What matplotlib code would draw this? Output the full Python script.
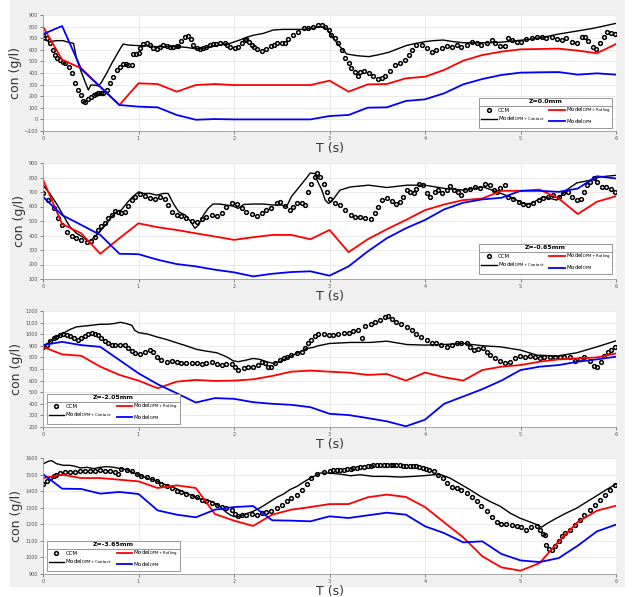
import numpy as np
import matplotlib
matplotlib.use("Agg")
import matplotlib.pyplot as plt
from matplotlib.patches import Rectangle
from matplotlib.lines import Line2D

# model time grid (s)
t_model = np.linspace(0, 6, 31)

# ---------- Z = 0.0 mm ----------
t_ccm_1 = [0.00, 0.04, 0.07, 0.10, 0.125, 0.15, 0.18, 0.21, 0.23, 0.27, 0.30, 0.335, 0.37, 0.40, 0.42, 0.44, 0.475, 0.50, 0.53, 0.56, 0.58, 0.61, 0.63, 0.67, 0.70, 0.735, 0.77, 0.81, 0.84, 0.87, 0.89, 0.93, 0.94, 0.97, 1.0, 1.02, 1.05, 1.085, 1.12, 1.155, 1.19, 1.225, 1.26, 1.295, 1.33, 1.365, 1.40, 1.417, 1.45, 1.49, 1.52, 1.55, 1.575, 1.61, 1.645, 1.68, 1.71, 1.745, 1.78, 1.815, 1.85, 1.905, 1.93, 1.96, 2.01, 2.045, 2.08, 2.115, 2.13, 2.16, 2.185, 2.21, 2.24, 2.29, 2.34, 2.39, 2.42, 2.45, 2.50, 2.53, 2.57, 2.62, 2.67, 2.73, 2.78, 2.83, 2.88, 2.92, 2.95, 2.99, 3.02, 3.06, 3.09, 3.13, 3.16, 3.20, 3.23, 3.27, 3.30, 3.32, 3.36, 3.41, 3.46, 3.51, 3.55, 3.58, 3.63, 3.69, 3.74, 3.79, 3.83, 3.86, 3.91, 3.97, 4.02, 4.07, 4.12, 4.18, 4.23, 4.28, 4.33, 4.38, 4.44, 4.49, 4.54, 4.59, 4.65, 4.70, 4.73, 4.79, 4.84, 4.87, 4.91, 4.96, 5.01, 5.06, 5.12, 5.17, 5.22, 5.27, 5.33, 5.38, 5.43, 5.48, 5.54, 5.59, 5.64, 5.68, 5.71, 5.76, 5.79, 5.83, 5.87, 5.91, 5.95, 5.99]
ccm_1 = [730, 700, 656, 600, 555, 530, 512, 495, 483, 455, 397, 311, 253, 210, 160, 148, 173, 195, 210, 222, 230, 228, 225, 253, 311, 368, 426, 455, 475, 478, 472, 470, 560, 562, 575, 612, 647, 661, 641, 612, 604, 627, 641, 633, 628, 627, 630, 633, 679, 713, 722, 690, 641, 612, 607, 615, 627, 638, 647, 652, 656, 656, 642, 627, 612, 627, 661, 684, 690, 665, 641, 620, 604, 593, 604, 633, 645, 656, 661, 656, 690, 728, 756, 785, 785, 794, 814, 812, 800, 771, 728, 699, 656, 598, 526, 483, 440, 411, 374, 411, 417, 403, 374, 348, 354, 374, 420, 469, 489, 512, 555, 598, 641, 641, 612, 584, 598, 612, 633, 627, 641, 627, 641, 670, 656, 641, 656, 684, 656, 633, 633, 699, 684, 670, 670, 690, 699, 713, 707, 699, 707, 690, 684, 699, 670, 661, 707, 713, 679, 627, 604, 656, 713, 751, 748, 733]
t_contact_1 = [0, 0.07, 0.14, 0.21, 0.28, 0.32, 0.35, 0.40, 0.44, 0.475, 0.50, 0.54, 0.58, 0.61, 0.67, 0.72, 0.77, 0.81, 0.84, 0.89, 1.0, 1.09, 1.19, 1.29, 1.40, 1.50, 1.575, 1.645, 1.75, 1.85, 1.96, 2.01, 2.06, 2.13, 2.20, 2.31, 2.38, 2.41, 2.52, 2.62, 2.73, 2.83, 2.90, 2.97, 3.04, 3.11, 3.18, 3.29, 3.41, 3.50, 3.62, 3.70, 3.81, 3.91, 4.0, 4.09, 4.19, 4.30, 4.40, 4.54, 4.68, 4.82, 4.96, 5.10, 5.24, 5.38, 5.55, 5.76, 6.0]
contact_1 = [690, 670, 679, 679, 661, 656, 526, 411, 325, 253, 296, 296, 288, 317, 403, 483, 555, 612, 650, 641, 636, 633, 627, 627, 627, 621, 612, 607, 627, 641, 656, 670, 684, 707, 725, 742, 762, 771, 776, 776, 776, 785, 800, 785, 699, 627, 564, 549, 541, 555, 578, 604, 638, 656, 670, 679, 684, 670, 661, 661, 661, 667, 679, 690, 707, 733, 756, 785, 828]
rolling_1 = [800, 515, 440, 282, 124, 311, 305, 239, 296, 305, 296, 296, 296, 296, 296, 334, 239, 302, 305, 354, 368, 426, 506, 555, 584, 604, 607, 610, 593, 570, 650]
dpm_1 = [735, 805, 434, 280, 124, 110, 104, 38, -3, 3, 0, 0, 0, 0, 0, 29, 38, 101, 104, 159, 173, 225, 302, 348, 383, 403, 406, 408, 386, 397, 386]

# ---------- Z = -0.65 mm ----------
t_ccm_2 = [0.00, 0.056, 0.11, 0.16, 0.195, 0.25, 0.30, 0.35, 0.40, 0.46, 0.50, 0.545, 0.58, 0.61, 0.65, 0.685, 0.72, 0.75, 0.79, 0.82, 0.86, 0.89, 0.93, 0.96, 1.02, 1.07, 1.12, 1.17, 1.225, 1.28, 1.31, 1.35, 1.40, 1.45, 1.50, 1.555, 1.61, 1.66, 1.71, 1.77, 1.82, 1.87, 1.92, 1.975, 2.03, 2.08, 2.13, 2.185, 2.24, 2.29, 2.34, 2.39, 2.45, 2.48, 2.53, 2.585, 2.62, 2.66, 2.71, 2.74, 2.78, 2.81, 2.85, 2.87, 2.90, 2.94, 2.97, 3.0, 3.06, 3.11, 3.16, 3.22, 3.27, 3.32, 3.37, 3.43, 3.48, 3.51, 3.55, 3.60, 3.65, 3.70, 3.74, 3.77, 3.81, 3.84, 3.88, 3.91, 3.94, 3.98, 4.02, 4.05, 4.10, 4.14, 4.18, 4.23, 4.26, 4.30, 4.35, 4.38, 4.42, 4.47, 4.52, 4.58, 4.63, 4.68, 4.72, 4.75, 4.79, 4.84, 4.87, 4.92, 4.98, 5.03, 5.08, 5.13, 5.19, 5.24, 5.29, 5.34, 5.40, 5.45, 5.50, 5.54, 5.59, 5.63, 5.66, 5.70, 5.73, 5.77, 5.80, 5.85, 5.90, 5.95, 5.99]
ccm_2 = [690, 644, 587, 518, 473, 427, 397, 381, 370, 358, 365, 393, 438, 466, 484, 518, 541, 569, 564, 557, 564, 603, 644, 667, 685, 674, 660, 649, 667, 655, 610, 564, 541, 537, 518, 502, 495, 511, 530, 541, 534, 553, 598, 621, 614, 587, 564, 548, 534, 557, 575, 591, 621, 633, 603, 575, 598, 626, 621, 610, 701, 758, 804, 831, 804, 758, 701, 655, 626, 610, 575, 541, 530, 530, 523, 511, 553, 598, 644, 662, 639, 614, 633, 667, 713, 701, 690, 724, 758, 747, 690, 667, 701, 717, 690, 717, 740, 717, 701, 678, 713, 724, 735, 731, 754, 747, 717, 701, 728, 747, 667, 649, 633, 617, 610, 621, 644, 662, 667, 678, 667, 690, 701, 667, 644, 655, 701, 747, 770, 799, 770, 735, 735, 724, 701]
t_contact_2 = [0, 0.07, 0.14, 0.21, 0.28, 0.35, 0.42, 0.475, 0.51, 0.56, 0.61, 0.67, 0.72, 0.77, 0.82, 0.875, 0.93, 1.0, 1.05, 1.12, 1.19, 1.26, 1.31, 1.365, 1.42, 1.49, 1.54, 1.59, 1.63, 1.68, 1.73, 1.78, 1.85, 1.92, 1.99, 2.045, 2.10, 2.20, 2.31, 2.41, 2.50, 2.55, 2.60, 2.67, 2.74, 2.80, 2.85, 2.87, 2.92, 2.955, 2.99, 3.02, 3.11, 3.22, 3.41, 3.60, 3.81, 4.0, 4.21, 4.40, 4.61, 4.75, 4.89, 5.03, 5.10, 5.24, 5.38, 5.48, 5.59, 5.73, 5.83, 6.0]
contact_2 = [747, 690, 621, 541, 461, 415, 388, 358, 370, 404, 438, 484, 530, 564, 575, 621, 662, 701, 690, 690, 678, 690, 690, 621, 564, 541, 502, 450, 473, 541, 587, 617, 617, 610, 603, 587, 614, 617, 617, 610, 610, 598, 667, 724, 781, 831, 827, 781, 713, 644, 621, 633, 713, 735, 747, 731, 747, 747, 724, 713, 735, 701, 667, 621, 617, 667, 644, 713, 763, 781, 804, 815]
rolling_2 = [786, 479, 415, 274, 381, 484, 457, 438, 415, 393, 370, 388, 404, 404, 374, 438, 285, 374, 443, 507, 575, 614, 644, 655, 708, 708, 717, 655, 548, 633, 671]
dpm_2 = [667, 541, 473, 404, 274, 271, 233, 203, 187, 164, 146, 118, 136, 148, 153, 123, 187, 290, 381, 450, 507, 580, 626, 649, 660, 708, 708, 701, 724, 809, 793]

# ---------- Z = -2.05 mm ----------
t_ccm_3 = [0.00, 0.04, 0.07, 0.11, 0.14, 0.18, 0.21, 0.25, 0.28, 0.32, 0.37, 0.40, 0.44, 0.475, 0.51, 0.545, 0.58, 0.61, 0.65, 0.685, 0.72, 0.75, 0.81, 0.86, 0.89, 0.93, 0.96, 1.02, 1.07, 1.12, 1.155, 1.19, 1.24, 1.295, 1.35, 1.40, 1.45, 1.50, 1.555, 1.61, 1.66, 1.71, 1.77, 1.82, 1.87, 1.92, 1.975, 2.01, 2.045, 2.10, 2.15, 2.20, 2.255, 2.29, 2.325, 2.36, 2.39, 2.43, 2.48, 2.52, 2.55, 2.60, 2.66, 2.71, 2.74, 2.78, 2.81, 2.85, 2.88, 2.94, 2.99, 3.04, 3.09, 3.15, 3.20, 3.25, 3.30, 3.34, 3.37, 3.43, 3.48, 3.53, 3.58, 3.61, 3.65, 3.70, 3.75, 3.81, 3.86, 3.91, 3.96, 4.02, 4.07, 4.12, 4.17, 4.23, 4.28, 4.33, 4.38, 4.44, 4.47, 4.51, 4.56, 4.61, 4.65, 4.68, 4.73, 4.79, 4.84, 4.89, 4.94, 4.99, 5.05, 5.10, 5.15, 5.20, 5.25, 5.31, 5.36, 5.41, 5.46, 5.52, 5.57, 5.62, 5.67, 5.73, 5.77, 5.80, 5.84, 5.87, 5.92, 5.95, 5.99]
ccm_3 = [891, 906, 943, 963, 977, 991, 1006, 997, 983, 963, 954, 963, 983, 1000, 1011, 1006, 997, 969, 940, 926, 911, 906, 911, 906, 883, 854, 834, 829, 843, 863, 849, 806, 777, 763, 769, 763, 749, 754, 749, 754, 740, 749, 763, 740, 734, 740, 743, 720, 691, 706, 720, 720, 734, 763, 749, 720, 720, 749, 777, 791, 806, 820, 834, 849, 877, 920, 954, 983, 1000, 1006, 991, 991, 1006, 1011, 1014, 1026, 1040, 963, 1069, 1091, 1106, 1126, 1149, 1154, 1134, 1106, 1086, 1063, 1034, 1006, 977, 949, 926, 920, 906, 891, 911, 920, 926, 920, 891, 863, 869, 877, 849, 820, 791, 771, 754, 763, 791, 811, 806, 811, 800, 791, 800, 806, 806, 800, 806, 800, 771, 783, 800, 769, 726, 720, 763, 811, 849, 863, 886]
t_contact_3 = [0, 0.07, 0.14, 0.21, 0.28, 0.35, 0.44, 0.51, 0.60, 0.67, 0.74, 0.81, 0.875, 0.93, 0.96, 1.0, 1.10, 1.19, 1.295, 1.40, 1.50, 1.61, 1.71, 1.82, 1.92, 1.99, 2.045, 2.13, 2.20, 2.27, 2.34, 2.41, 2.48, 2.585, 2.67, 2.76, 2.83, 2.88, 3.0, 3.22, 3.43, 3.60, 3.81, 4.0, 4.19, 4.40, 4.61, 4.79, 5.0, 5.17, 5.38, 5.59, 5.80, 6.0]
contact_3 = [891, 934, 977, 1006, 1040, 1063, 1071, 1077, 1086, 1086, 1091, 1103, 1091, 1077, 1034, 1014, 1000, 977, 954, 926, 900, 869, 854, 840, 806, 771, 763, 777, 791, 783, 763, 749, 763, 806, 840, 877, 886, 900, 920, 929, 929, 940, 911, 906, 911, 920, 900, 891, 863, 820, 811, 840, 891, 943]
rolling_3 = [891, 826, 814, 720, 649, 600, 534, 591, 606, 597, 600, 611, 640, 677, 686, 677, 669, 649, 657, 600, 669, 629, 600, 691, 720, 734, 763, 783, 791, 800, 834]
dpm_3 = [906, 934, 906, 891, 777, 663, 569, 491, 411, 449, 443, 414, 400, 391, 371, 314, 303, 277, 249, 206, 263, 400, 463, 526, 600, 691, 720, 734, 763, 783, 806]

# ---------- Z = -3.65 mm ----------
t_ccm_4 = [0.00, 0.04, 0.07, 0.11, 0.14, 0.18, 0.23, 0.28, 0.335, 0.39, 0.44, 0.49, 0.545, 0.60, 0.65, 0.70, 0.75, 0.79, 0.82, 0.875, 0.93, 0.98, 1.03, 1.085, 1.14, 1.19, 1.24, 1.295, 1.35, 1.40, 1.45, 1.50, 1.555, 1.61, 1.66, 1.71, 1.77, 1.82, 1.87, 1.92, 1.975, 2.01, 2.045, 2.08, 2.13, 2.185, 2.24, 2.29, 2.34, 2.39, 2.45, 2.50, 2.55, 2.60, 2.66, 2.71, 2.76, 2.81, 2.87, 2.94, 3.0, 3.04, 3.08, 3.11, 3.15, 3.18, 3.22, 3.25, 3.29, 3.32, 3.36, 3.40, 3.43, 3.46, 3.50, 3.53, 3.57, 3.60, 3.64, 3.67, 3.70, 3.74, 3.77, 3.80, 3.84, 3.87, 3.91, 3.94, 3.98, 4.01, 4.04, 4.09, 4.14, 4.19, 4.23, 4.28, 4.33, 4.38, 4.44, 4.49, 4.54, 4.59, 4.65, 4.70, 4.75, 4.80, 4.85, 4.91, 4.96, 5.01, 5.06, 5.11, 5.17, 5.20, 5.24, 5.26, 5.27, 5.30, 5.33, 5.36, 5.40, 5.43, 5.47, 5.52, 5.57, 5.62, 5.67, 5.73, 5.78, 5.83, 5.88, 5.94, 5.99]
ccm_4 = [1443, 1459, 1479, 1489, 1499, 1509, 1516, 1513, 1516, 1520, 1520, 1524, 1524, 1526, 1524, 1520, 1513, 1503, 1536, 1530, 1520, 1503, 1493, 1485, 1473, 1459, 1445, 1433, 1419, 1403, 1393, 1383, 1373, 1363, 1349, 1338, 1328, 1318, 1304, 1298, 1284, 1262, 1252, 1258, 1254, 1262, 1258, 1268, 1272, 1282, 1298, 1318, 1338, 1359, 1379, 1409, 1443, 1479, 1503, 1516, 1524, 1526, 1528, 1529, 1530, 1532, 1534, 1537, 1540, 1544, 1548, 1551, 1554, 1555, 1556, 1558, 1560, 1560, 1558, 1557, 1556, 1555, 1554, 1554, 1554, 1552, 1550, 1546, 1540, 1535, 1530, 1520, 1499, 1479, 1449, 1423, 1419, 1409, 1389, 1363, 1338, 1308, 1278, 1242, 1214, 1201, 1201, 1198, 1188, 1182, 1167, 1182, 1192, 1167, 1141, 1133, 1073, 1053, 1047, 1067, 1097, 1127, 1147, 1167, 1198, 1228, 1258, 1288, 1318, 1349, 1379, 1409, 1439]
t_contact_4 = [0, 0.056, 0.09, 0.14, 0.21, 0.28, 0.335, 0.39, 0.46, 0.53, 0.60, 0.67, 0.74, 0.81, 0.875, 0.94, 1.02, 1.085, 1.155, 1.225, 1.295, 1.365, 1.435, 1.50, 1.575, 1.645, 1.71, 1.78, 1.85, 1.92, 1.975, 2.03, 2.08, 2.15, 2.20, 2.255, 2.31, 2.38, 2.45, 2.52, 2.585, 2.66, 2.73, 2.80, 2.87, 2.90, 3.0, 3.11, 3.22, 3.32, 3.46, 3.60, 3.74, 3.88, 3.98, 4.09, 4.17, 4.26, 4.37, 4.47, 4.58, 4.68, 4.79, 4.89, 4.99, 5.10, 5.17, 5.22, 5.27, 5.38, 5.48, 5.59, 5.69, 5.80, 5.90, 6.0]
contact_4 = [1564, 1580, 1584, 1566, 1556, 1556, 1550, 1540, 1544, 1536, 1544, 1548, 1544, 1536, 1530, 1513, 1495, 1479, 1469, 1453, 1435, 1423, 1405, 1389, 1369, 1353, 1349, 1334, 1308, 1272, 1252, 1244, 1252, 1268, 1278, 1294, 1312, 1338, 1363, 1383, 1409, 1429, 1455, 1479, 1499, 1509, 1509, 1503, 1493, 1499, 1489, 1489, 1485, 1489, 1493, 1499, 1499, 1479, 1443, 1409, 1369, 1338, 1308, 1268, 1238, 1214, 1198, 1182, 1202, 1238, 1268, 1298, 1334, 1373, 1409, 1443]
rolling_4 = [1479, 1499, 1479, 1479, 1469, 1459, 1419, 1435, 1419, 1262, 1222, 1190, 1258, 1288, 1304, 1322, 1322, 1363, 1379, 1365, 1304, 1212, 1121, 1007, 940, 920, 966, 1097, 1214, 1282, 1312]
dpm_4 = [1503, 1415, 1413, 1385, 1395, 1383, 1284, 1258, 1242, 1288, 1304, 1310, 1224, 1222, 1218, 1248, 1238, 1254, 1270, 1258, 1188, 1147, 1091, 1097, 1021, 982, 972, 996, 1071, 1157, 1198]

titles = ["Z=0.0mm", "Z=-0.65mm", "Z=-2.05mm", "Z=-3.65mm"]
ylims = [(-100, 900), (100, 900), (200, 1200), (900, 1600)]

panels = [
    (t_ccm_1, ccm_1, t_contact_1, contact_1, rolling_1, dpm_1),
    (t_ccm_2, ccm_2, t_contact_2, contact_2, rolling_2, dpm_2),
    (t_ccm_3, ccm_3, t_contact_3, contact_3, rolling_3, dpm_3),
    (t_ccm_4, ccm_4, t_contact_4, contact_4, rolling_4, dpm_4),
]

W, H = 637, 597
fig = plt.figure(figsize=(W / 100, H / 100), dpi=100)
fig.patch.set_facecolor("white")
# grey figure area like a MATLAB window
fig.patches.append(Rectangle((10 / W, 10 / H), 615 / W, 1 - 10 / H,
                             transform=fig.transFigure, facecolor="#f0f0f0",
                             edgecolor="none", zorder=-10))

# axes boxes in pixels: top, bottom
boxes = [(15, 131), (163, 279), (311, 427), (458, 574)]
leg_anchor = [("lower right", (0.993, 0.026)), ("lower right", (0.993, 0.043)),
              ("lower left", (0.007, 0.026)), ("lower left", (0.007, 0.026))]

legends = []
for i, (tc, cc, tk, kk, rr, dd) in enumerate(panels):
    top, bot = boxes[i]
    ax = fig.add_axes([43 / W, 1 - bot / H, 573 / W, (bot - top) / H])
    ax.set_facecolor("white")

    h_ccm, = ax.plot(tc, cc, 'o', mfc='none', mec='black', ms=2.7, mew=1.1, ls='none', label='CCM')
    h_con, = ax.plot(tk, kk, color='black', lw=1.0, label=r'Model$_{\mathregular{DPM+Contact}}$')
    h_rol, = ax.plot(t_model, rr, color='#ff0000', lw=1.3, label=r'Model$_{\mathregular{DPM+Rolling}}$')
    h_dpm, = ax.plot(t_model, dd, color='#0000ff', lw=1.3, label=r'Model$_{\mathregular{DPM}}$')

    ax.set_xlim(0, 6)
    ax.set_ylim(*ylims[i])
    ax.set_xticks(range(0, 7))
    ax.set_yticks(np.arange(ylims[i][0], ylims[i][1] + 1, 100))
    ax.grid(True, color='#e6e6e6', lw=0.6)
    ax.set_axisbelow(True)
    for s in ['top', 'right']:
        ax.spines[s].set_visible(False)
    for s in ['left', 'bottom']:
        ax.spines[s].set_color('#999999')
        ax.spines[s].set_linewidth(0.6)
    ax.tick_params(labelsize=3.5, colors='#555555', length=2, width=0.5, pad=1.5)
    ax.set_ylabel("con (g/l)", fontsize=9, color='#333333', labelpad=2)
    ax.set_xlabel("T (s)", fontsize=9, color='#333333', labelpad=1)

    loc, anchor = leg_anchor[i]
    leg = ax.legend([h_ccm, h_con, h_rol, h_dpm],
                    [h.get_label() for h in (h_ccm, h_con, h_rol, h_dpm)],
                    loc=loc, bbox_to_anchor=anchor, ncol=2, fontsize=4,
                    title=titles[i], title_fontproperties={'weight': 'bold', 'size': 4.5},
                    fancybox=False, framealpha=1, edgecolor='#888888',
                    handlelength=2.8, columnspacing=0.8, borderpad=0.3,
                    labelspacing=0.25, handletextpad=0.2, borderaxespad=0)
    leg.get_frame().set_linewidth(0.6)
    legends.append(leg)

# thin rule under each legend title
fig.canvas.draw()
inv = fig.transFigure.inverted()
for leg in legends:
    bb = leg.get_window_extent()
    tb = leg.get_title().get_window_extent()
    y = tb.y0 - 1.5
    (x0, yf), (x1, _) = inv.transform([(bb.x0, y), (bb.x1, y)])
    fig.add_artist(Line2D([x0, x1], [yf, yf], color='#888888', lw=0.6,
                          transform=fig.transFigure))

fig.savefig("out.png", dpi=100, facecolor=fig.get_facecolor())
